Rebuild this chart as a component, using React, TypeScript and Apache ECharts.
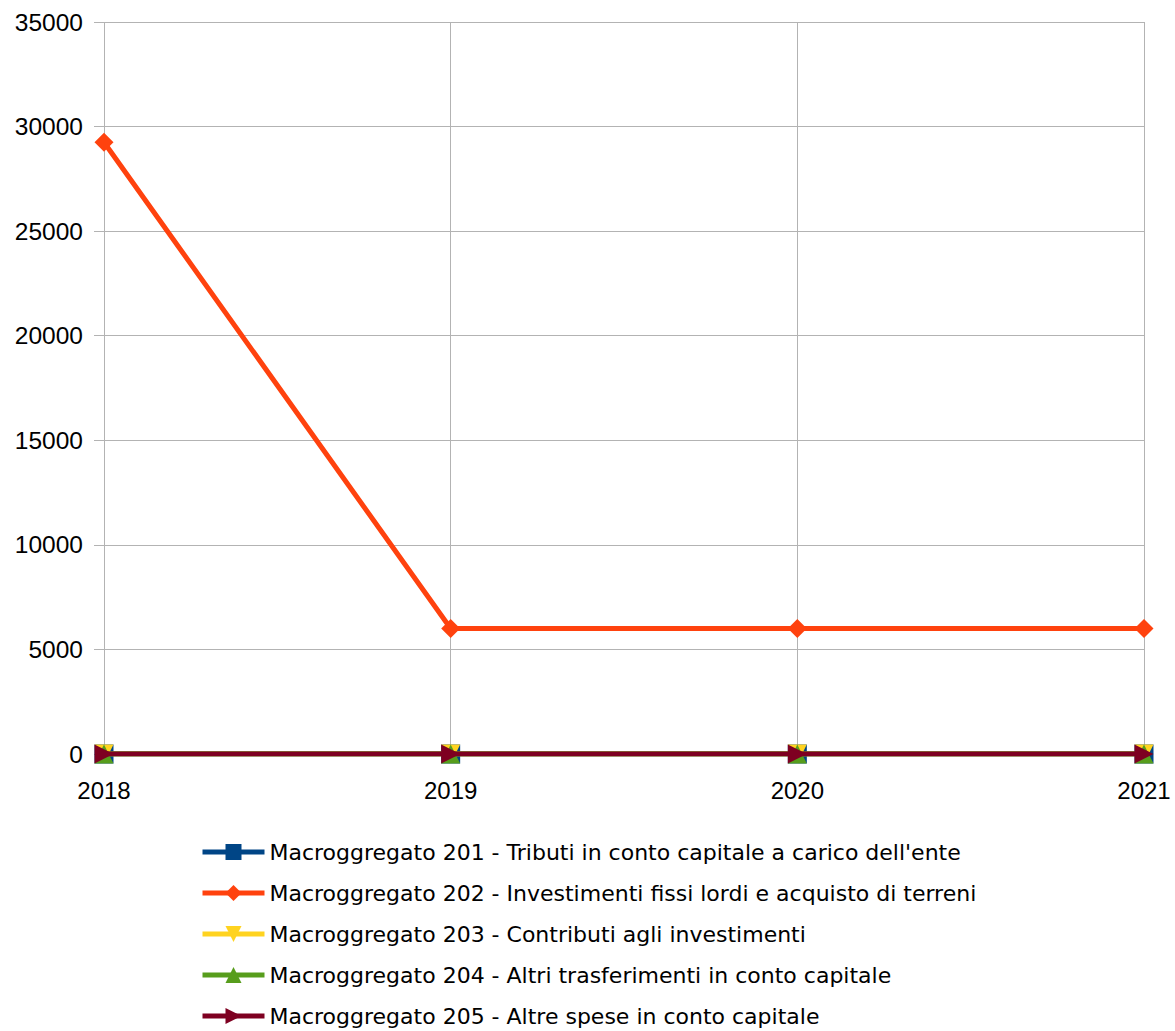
import React, { useEffect, useRef } from "react";
import * as echarts from "echarts";

const categories = ["2018", "2019", "2020", "2021"];
const seriesNames = [
  "Macroggregato 201 - Tributi in conto capitale a carico dell'ente",
  "Macroggregato 202 - Investimenti fissi lordi e acquisto di terreni",
  "Macroggregato 203 - Contributi agli investimenti",
  "Macroggregato 204 - Altri trasferimenti in conto capitale",
  "Macroggregato 205 - Altre spese in conto capitale",
];
const values201 = [0, 0, 0, 0];
const values202 = [29250, 6000, 6000, 6000];
const values203 = [0, 0, 0, 0];
const values204 = [0, 0, 0, 0];
const values205 = [0, 0, 0, 0];
const yTicks = [0, 5000, 10000, 15000, 20000, 25000, 30000, 35000];

const colors = ["#004586", "#ff420e", "#ffd320", "#579d1c", "#7e0021"];
const symbols = [
  "rect",
  "diamond",
  "path://M0,0L10,0L5,10Z",
  "path://M5,0L10,10L0,10Z",
  "path://M0,0L10,5L0,10Z",
];

export default function App() {
  const ref = useRef<HTMLDivElement>(null);
  useEffect(() => {
    const chart = echarts.init(ref.current!, null, { renderer: "svg" });
    const data = [values201, values202, values203, values204, values205];
    chart.setOption({
      animation: false,
      color: colors,
      grid: { left: 104, right: 31, top: 22, bottom: 277, containLabel: false },
      xAxis: {
        type: "category",
        data: categories,
        boundaryGap: false,
        axisLine: { show: false },
        axisTick: { show: false },
        splitLine: { show: true, lineStyle: { color: "#b3b3b3", width: 1 } },
        axisLabel: {
          color: "#000",
          fontFamily: "Liberation Sans",
          fontSize: 24,
          margin: 24,
        },
      },
      yAxis: {
        type: "value",
        min: 0,
        max: yTicks[yTicks.length - 1],
        interval: 5000,
        axisLine: { show: false },
        axisTick: { show: true, length: 10, lineStyle: { color: "#b3b3b3" } },
        splitLine: { show: true, lineStyle: { color: "#b3b3b3", width: 1 } },
        axisLabel: {
          color: "#000",
          fontFamily: "Liberation Sans",
          fontSize: 24.5,
          margin: 21,
          formatter: (v: number) => String(v),
        },
      },
      legend: {
        orient: "vertical",
        left: 200,
        top: 841,
        padding: 0,
        itemGap: 19,
        itemWidth: 62,
        itemHeight: 20,
        lineStyle: { width: 5 },
        textStyle: {
          color: "#000",
          fontFamily: "DejaVu Sans",
          fontSize: 22,
        },
        data: seriesNames,
      },
      series: seriesNames.map((name, i) => ({
        name,
        type: "line",
        data: data[i],
        symbol: symbols[i],
        symbolSize: 19,
        showSymbol: true,
        lineStyle: { width: 5, color: colors[i] },
        itemStyle: { color: colors[i] },
        z: 2 + i,
      })),
    });
    return () => chart.dispose();
  }, []);
  return <div ref={ref} style={{ width: 1175, height: 1031, position: "absolute", left: 0, top: 0 }} />;
}
